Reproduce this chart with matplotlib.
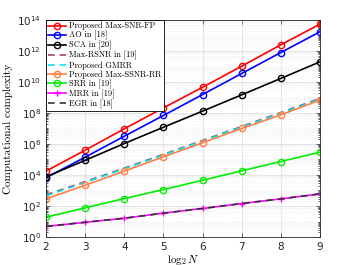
import numpy as np
import matplotlib
matplotlib.use('Agg')
import matplotlib.pyplot as plt

plt.rcParams['mathtext.fontset'] = 'cm'

n = [2, 3, 4, 5, 6, 7, 8, 9]

# log10 of the complexity
fp = [4.25, 5.6, 6.98, 8.33, 9.66, 11.02, 12.4, 13.73]
ao = [3.82, 5.15, 6.5, 7.84, 9.19, 10.55, 11.9, 13.24]
sca = [3.88, 4.95, 6.03, 7.08, 8.12, 9.17, 10.23, 11.3]
rsnr = [2.72, 3.57, 4.44, 5.33, 6.23, 7.13, 8.03, 8.94]
gmrr = [2.66, 3.52, 4.4, 5.29, 6.19, 7.09, 7.99, 8.9]
ssnr = [2.46, 3.34, 4.25, 5.17, 6.08, 7.0, 7.88, 8.83]
srr = [1.28, 1.88, 2.48, 3.06, 3.66, 4.27, 4.87, 5.47]
mrr = [0.68, 0.95, 1.21, 1.54, 1.84, 2.16, 2.46, 2.78]
egr = [0.68, 0.95, 1.21, 1.54, 1.84, 2.16, 2.46, 2.78]

def p(v):
    return 10 ** np.array(v)

fig = plt.figure(figsize=(3.54, 2.66), dpi=100)
ax = fig.add_axes([0.13, 0.109, 0.774, 0.816])

mk = dict(marker='o', markersize=4.5, markerfacecolor='none', markeredgewidth=1.0, linewidth=1.2)
ax.plot(n, p(fp), color='#ff0000', label='Proposed Max-SNR-FP', **mk)
ax.plot(n, p(ao), color='#0000ff', label='AO in [18]', **mk)
ax.plot(n, p(sca), color='#000000', label='SCA in [20]', **mk)
ax.plot(n, p(rsnr), color='#a2435a', linestyle=(0, (4, 3)), linewidth=1.2, label='Max-RSNR in [19]')
ax.plot(n, p(gmrr), color='#00e5ee', linestyle=(0, (4, 3)), linewidth=1.2, label='Proposed GMRR')
ax.plot(n, p(ssnr), color='#ff7f45', label='Proposed Max-SSNR-RR', **mk)
ax.plot(n, p(srr), color='#00ee00', label='SRR in [19]', **mk)
ax.plot(n, p(mrr), color='#ff00ff', marker='+', markersize=5, markeredgewidth=1.0, linewidth=1.2, label='MRR in [19]')
ax.plot(n, p(egr), color='#333333', linestyle=(0, (4, 3)), linewidth=1.2, label='EGR in [18]')

ax.set_yscale('log')
ax.set_xlim(2, 9)
ax.set_ylim(1e0, 1e14)
ax.set_yticks([10.0 ** k for k in range(0, 15, 2)])
ax.yaxis.set_minor_locator(matplotlib.ticker.LogLocator(base=10, subs=np.arange(1, 10), numticks=50))
ax.yaxis.set_minor_formatter(matplotlib.ticker.NullFormatter())
ax.set_xticks(n)

ax.grid(True, which='major', color='#d9d9d9', linewidth=0.5)
ax.grid(True, which='minor', axis='y', color='#e6e6e6', linewidth=0.4, linestyle=':')
ax.set_axisbelow(True)
ax.tick_params(which='both', direction='in', top=True, right=True, labelsize=7.5, colors='#262626', width=0.5)
ax.tick_params(which='major', length=3)
ax.tick_params(which='minor', length=1.5)
for s in ax.spines.values():
    s.set_linewidth(0.6)
    s.set_color('#262626')

ax.set_xlabel(r'$\log_2 N$', fontsize=8, labelpad=1)
ax.set_ylabel('Computational complexity', fontsize=8, family='serif', fontname='cmr10', labelpad=3)

leg = ax.legend(loc='upper left', prop={'family': 'serif', 'size': 6}, fancybox=False,
                framealpha=1, edgecolor='black', borderpad=0.25, labelspacing=0.08,
                handlelength=2.2, handletextpad=0.35, borderaxespad=0.0)
leg.get_frame().set_linewidth(0.6)
for t in leg.get_texts():
    t.set_fontname('cmr10')

fig.savefig('out.png', dpi=100)
